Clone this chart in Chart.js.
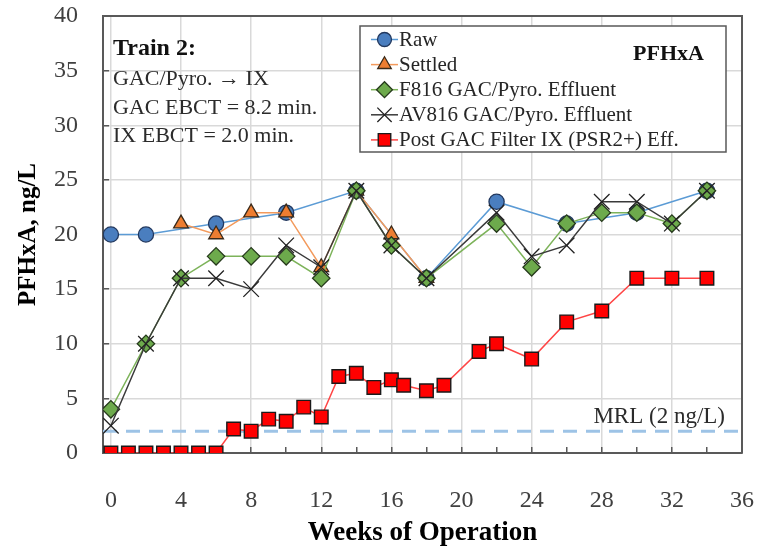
<!DOCTYPE html>
<html><head><meta charset="utf-8">
<script src="https://cdn.jsdelivr.net/npm/chart.js@4.4.1/dist/chart.umd.min.js"></script>
<style>html,body{margin:0;padding:0;background:#fff}canvas{display:block}</style>
</head><body>
<canvas id="c" width="761" height="549"></canvas>
<script>
// ---- data ----
const rawWeeks      = [0, 2, 6, 10, 14, 18, 22, 26, 30, 34];
const rawValues     = [20, 20, 21, 22, 24, 16, 23, 21, 22, 24];
const settledWeeks  = [4, 6, 8, 10, 12, 14, 16, 18];
const settledValues = [21, 20, 22, 22, 17, 24, 20, 16];
const f816Weeks     = [0, 2, 4, 6, 8, 10, 12, 14, 16, 18, 22, 24, 26, 28, 30, 32, 34];
const f816Values    = [4, 10, 16, 18, 18, 18, 16, 24, 19, 16, 21, 17, 21, 22, 22, 21, 24];
const av816Weeks    = [0, 2, 4, 6, 8, 10, 12, 14, 16, 18, 22, 24, 26, 28, 30, 32, 34];
const av816Values   = [2.5, 10, 16, 16, 15, 19, 17, 24, 19, 16, 22, 18, 19, 23, 23, 21, 24];
const ixWeeks       = [0, 1, 2, 3, 4, 5, 6, 7, 8, 9, 10, 11, 12, 13, 14, 15, 16, 16.7, 18, 19, 21, 22, 24, 26, 28, 30, 32, 34];
const ixValues      = [0, 0, 0, 0, 0, 0, 0, 2.2, 2.0, 3.1, 2.9, 4.2, 3.3, 7.0, 7.3, 6.0, 6.7, 6.2, 5.7, 6.2, 9.3, 10, 8.6, 12, 13, 16, 16, 16];
const mrlWeeks      = [-0.45, 36];
const mrlValues     = [2, 2];
const seriesNames   = ['Raw', 'Settled', 'F816 GAC/Pyro. Effluent', 'AV816 GAC/Pyro. Effluent', 'Post GAC Filter IX (PSR2+) Eff.'];
const xLabelTicks   = [0, 4, 8, 12, 16, 20, 24, 28, 32, 36];
const xMinorTicks   = [2, 6, 10, 14, 18, 22, 26, 30, 34];
const yTicks        = [0, 5, 10, 15, 20, 25, 30, 35, 40];
const noteLines     = ['GAC/Pyro. \u2192 IX', 'GAC EBCT = 8.2 min.', 'IX EBCT = 2.0 min.'];
const noteTitle     = 'Train 2:';
const analyteLabel  = 'PFHxA';
const mrlLabel      = 'MRL (2 ng/L)';

const pts = (xs, ys) => xs.map((x, i) => ({x: x, y: ys[i]}));
const FONT = "'Liberation Serif', 'Times New Roman', serif";
Chart.defaults.font.family = FONT;

const datasets = [
  {label: seriesNames[0], data: pts(rawWeeks, rawValues), order: 5,
   borderColor: '#5B9BD5', borderWidth: 1.5, pointStyle: 'circle', pointRadius: 7.6,
   pointBackgroundColor: '#4A7EBF', pointBorderColor: '#22385E', pointBorderWidth: 1.3},
  {label: seriesNames[1], data: pts(settledWeeks, settledValues), order: 4,
   borderColor: '#F39A5C', borderWidth: 1.5, pointStyle: 'triangle', pointRadius: 8.5,
   pointBackgroundColor: '#ED7D31', pointBorderColor: '#3a2a1a', pointBorderWidth: 1.3},
  {label: seriesNames[2], data: pts(f816Weeks, f816Values), order: 3,
   borderColor: '#7DB35A', borderWidth: 1.5, pointStyle: 'rectRot', pointRadius: 8.7,
   pointBackgroundColor: '#6DAA4C', pointBorderColor: '#263a1c', pointBorderWidth: 1.3},
  {label: seriesNames[3], data: pts(av816Weeks, av816Values), order: 2,
   borderColor: '#3a3a3a', borderWidth: 1.5, pointStyle: 'crossRot', pointRadius: 11,
   pointBackgroundColor: '#222', pointBorderColor: '#222', pointBorderWidth: 1.3},
  {label: seriesNames[4], data: pts(ixWeeks, ixValues), order: 1,
   borderColor: '#FF4545', borderWidth: 1.5, pointStyle: 'rect', pointRadius: 9.6,
   pointBackgroundColor: '#FF0000', pointBorderColor: '#1a1a1a', pointBorderWidth: 1.4},
  {label: 'MRL', data: pts(mrlWeeks, mrlValues), order: 10,
   borderColor: '#9DC3E6', borderWidth: 3, borderDash: [14, 9], pointRadius: 0}
];
datasets.forEach(d => { d.tension = 0; d.fill = false; d.pointHoverRadius = d.pointRadius; });

function fallbackPoint(ctx, style, r, x, y) {
  ctx.beginPath();
  if (style === 'circle') ctx.arc(x, y, r, 0, Math.PI * 2);
  else if (style === 'triangle') { ctx.moveTo(x, y - r); ctx.lineTo(x + r * 0.866, y + r / 2); ctx.lineTo(x - r * 0.866, y + r / 2); ctx.closePath(); }
  else if (style === 'rectRot') { ctx.moveTo(x, y - r); ctx.lineTo(x + r, y); ctx.lineTo(x, y + r); ctx.lineTo(x - r, y); ctx.closePath(); }
  else if (style === 'rect') { const s = r * Math.SQRT1_2; ctx.rect(x - s, y - s, 2 * s, 2 * s); }
  else if (style === 'crossRot') { const s = r * Math.SQRT1_2; ctx.moveTo(x - s, y - s); ctx.lineTo(x + s, y + s); ctx.moveTo(x - s, y + s); ctx.lineTo(x + s, y - s); ctx.stroke(); return; }
  ctx.fill(); ctx.stroke();
}

const decor = {
  id: 'decor',
  beforeDatasetsDraw(chart) {
    const {ctx, chartArea: a} = chart;
    ctx.save();
    ctx.strokeStyle = '#595959'; ctx.lineWidth = 2;
    ctx.beginPath();
    ctx.moveTo(a.left, a.top); ctx.lineTo(a.right, a.top); ctx.lineTo(a.right, a.bottom);
    ctx.stroke();
    ctx.restore();
  },
  afterDatasetsDraw(chart) {
    const {ctx, chartArea: a} = chart;
    const ys = chart.scales.y;
    ctx.save();
    // note text
    ctx.textAlign = 'left'; ctx.textBaseline = 'alphabetic';
    ctx.fillStyle = '#111';
    ctx.font = "bold 24px " + FONT;
    ctx.fillText(noteTitle, a.left + 10, 55);
    ctx.fillStyle = '#2b2b2b';
    ctx.font = "22px " + FONT;
    noteLines.forEach((t, i) => ctx.fillText(t, a.left + 10, 85 + i * 28.5));
    // MRL label
    ctx.textAlign = 'right';
    ctx.font = "23px " + FONT;
    ctx.fillText(mrlLabel, 725, ys.getPixelForValue(mrlValues[0]) - 8);
    // legend box
    const bx = 360, by = 26, bw = 366, bh = 126;
    ctx.fillStyle = '#fff'; ctx.fillRect(bx, by, bw, bh);
    ctx.strokeStyle = '#595959'; ctx.lineWidth = 1.5; ctx.strokeRect(bx, by, bw, bh);
    ctx.font = "21px " + FONT;
    ctx.textAlign = 'left'; ctx.textBaseline = 'middle';
    for (let i = 0; i < 5; i++) {
      const d = chart.data.datasets[i];
      const y = 39.5 + i * 25.1;
      ctx.strokeStyle = d.borderColor; ctx.lineWidth = d.borderWidth; ctx.setLineDash([]);
      ctx.beginPath(); ctx.moveTo(371, y); ctx.lineTo(398, y); ctx.stroke();
      ctx.fillStyle = d.pointBackgroundColor; ctx.strokeStyle = d.pointBorderColor; ctx.lineWidth = d.pointBorderWidth;
      const r = d.pointRadius * 0.92;
      if (Chart.helpers && Chart.helpers.drawPoint) {
        Chart.helpers.drawPoint(ctx, {pointStyle: d.pointStyle, radius: r, rotation: 0, borderWidth: d.pointBorderWidth}, 384.5, y);
      } else fallbackPoint(ctx, d.pointStyle, r, 384.5, y);
      ctx.fillStyle = '#262626';
      ctx.fillText(d.label, 399, y + 1);
    }
    ctx.fillStyle = '#111';
    ctx.font = "bold 22px " + FONT;
    ctx.textBaseline = 'alphabetic';
    ctx.fillText(analyteLabel, 633, 60);
    ctx.restore();
  }
};

new Chart(document.getElementById('c'), {
  type: 'line',
  data: {datasets: datasets},
  plugins: [decor],
  options: {
    responsive: false, animation: false, devicePixelRatio: 1,
    layout: {padding: {top: 16, right: 19, bottom: 0, left: 0}},
    plugins: {legend: {display: false}, tooltip: {enabled: false}},
    scales: {
      x: {
        type: 'linear', min: -0.45, max: 36,
        afterBuildTicks: s => { s.ticks = xLabelTicks.concat(xMinorTicks).sort((a, b) => a - b).map(v => ({value: v})); },
        afterFit: s => { s.height = 96; s.paddingLeft = 0; s.paddingRight = 12; },
        ticks: {padding: 39, color: '#404040', font: {size: 24},
          callback: v => xLabelTicks.includes(v) ? String(v) : ''},
        grid: {drawTicks: true, tickLength: -6, lineWidth: 1.5,
          color: c => (c.tick && xLabelTicks.includes(c.tick.value) ? '#D9D9D9' : 'rgba(0,0,0,0)'),
          tickColor: '#595959', tickWidth: 1.5},
        border: {display: true, color: '#595959', width: 2},
        title: {display: true, text: 'Weeks of Operation', color: '#000',
          font: {size: 27, weight: 'bold'}, padding: {top: 0, bottom: 0}}
      },
      y: {
        type: 'linear', min: 0, max: 40,
        afterBuildTicks: s => { s.ticks = yTicks.map(v => ({value: v})); },
        afterFit: s => { s.width = 103; s.paddingTop = 12; s.paddingBottom = 12; },
        ticks: {padding: 31, color: '#404040', font: {size: 24}},
        grid: {drawTicks: true, tickLength: -6, lineWidth: 1.5, color: '#D9D9D9',
          tickColor: '#595959', tickWidth: 1.5},
        border: {display: true, color: '#595959', width: 2},
        title: {display: true, text: 'PFHxA, ng/L', color: '#000',
          font: {size: 25, weight: 'bold'}, padding: {top: 14, bottom: 0}}
      }
    }
  }
});
</script>
</body></html>
